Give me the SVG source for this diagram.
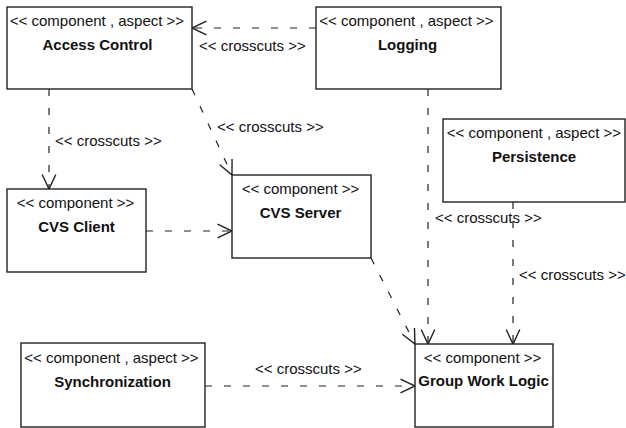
<svg xmlns="http://www.w3.org/2000/svg" width="626" height="428" viewBox="0 0 626 428">
<style>
.box{fill:#fff;stroke:#222;stroke-width:1.4}
.st{font-family:"Liberation Sans",Arial,sans-serif;font-size:15px;fill:#111;text-anchor:middle}
.ti{font-family:"Liberation Sans",Arial,sans-serif;font-size:15px;font-weight:bold;fill:#111;text-anchor:middle}
.lb{font-family:"Liberation Sans",Arial,sans-serif;font-size:15px;fill:#111}
.dep{fill:none;stroke:#222;stroke-width:1.2;stroke-dasharray:7 12;marker-end:url(#open)}
</style>
<defs>
<marker id="open" markerUnits="userSpaceOnUse" markerWidth="40" markerHeight="40" viewBox="-20 -20 40 40" refX="0" refY="0" orient="auto" overflow="visible">
<path d="M-14.5,-6.8 L0,0 L-14.5,6.8" fill="none" stroke="#222" stroke-width="1.4" stroke-dasharray="none"/>
</marker>
</defs>
<rect width="626" height="428" fill="#fff"/>
<g id="connectors">
<path class="dep" d="M316,28 L192,28"/>
<text class="lb" x="199" y="51">&lt;&lt; crosscuts &gt;&gt;</text>
<path class="dep" d="M49,89 L49,189"/>
<text class="lb" x="55" y="146">&lt;&lt; crosscuts &gt;&gt;</text>
<path class="dep" d="M192,89 L232,175"/>
<text class="lb" x="217" y="132">&lt;&lt; crosscuts &gt;&gt;</text>
<path class="dep" d="M146,231 L232,231"/>
<path class="dep" d="M371,258 L415,344"/>
<path class="dep" d="M428,89 L428,344"/>
<text class="lb" x="435" y="223">&lt;&lt; crosscuts &gt;&gt;</text>
<path class="dep" d="M513,202 L513,344"/>
<text class="lb" x="519" y="280">&lt;&lt; crosscuts &gt;&gt;</text>
<path class="dep" d="M205,386 L415,386"/>
<text class="lb" x="255" y="374">&lt;&lt; crosscuts &gt;&gt;</text>
</g>
<g id="access-control">
<rect class="box" x="7" y="7" width="185" height="82"/>
<text class="st" x="97" y="26">&lt;&lt; component , aspect &gt;&gt;</text>
<text class="ti" x="97.5" y="50">Access Control</text>
</g>
<g id="logging">
<rect class="box" x="316" y="7" width="185" height="82"/>
<text class="st" x="406.5" y="26">&lt;&lt; component , aspect &gt;&gt;</text>
<text class="ti" x="407.5" y="50">Logging</text>
</g>
<g id="persistence">
<rect class="box" x="443" y="119" width="182" height="83"/>
<text class="st" x="534" y="138">&lt;&lt; component , aspect &gt;&gt;</text>
<text class="ti" x="534" y="162">Persistence</text>
</g>
<g id="cvs-client">
<rect class="box" x="7" y="189" width="139" height="83"/>
<text class="st" x="75.5" y="208">&lt;&lt; component &gt;&gt;</text>
<text class="ti" x="76.5" y="232">CVS Client</text>
</g>
<g id="cvs-server">
<rect class="box" x="232" y="175" width="139" height="83"/>
<text class="st" x="300.5" y="194">&lt;&lt; component &gt;&gt;</text>
<text class="ti" x="300.5" y="218">CVS Server</text>
</g>
<g id="group-work-logic">
<rect class="box" x="415" y="344" width="138" height="83"/>
<text class="st" x="482.5" y="363">&lt;&lt; component &gt;&gt;</text>
<text class="ti" x="483.5" y="386">Group Work Logic</text>
</g>
<g id="synchronization">
<rect class="box" x="21" y="343" width="184" height="84"/>
<text class="st" x="111.5" y="363">&lt;&lt; component , aspect &gt;&gt;</text>
<text class="ti" x="112.5" y="387">Synchronization</text>
</g>
</svg>
